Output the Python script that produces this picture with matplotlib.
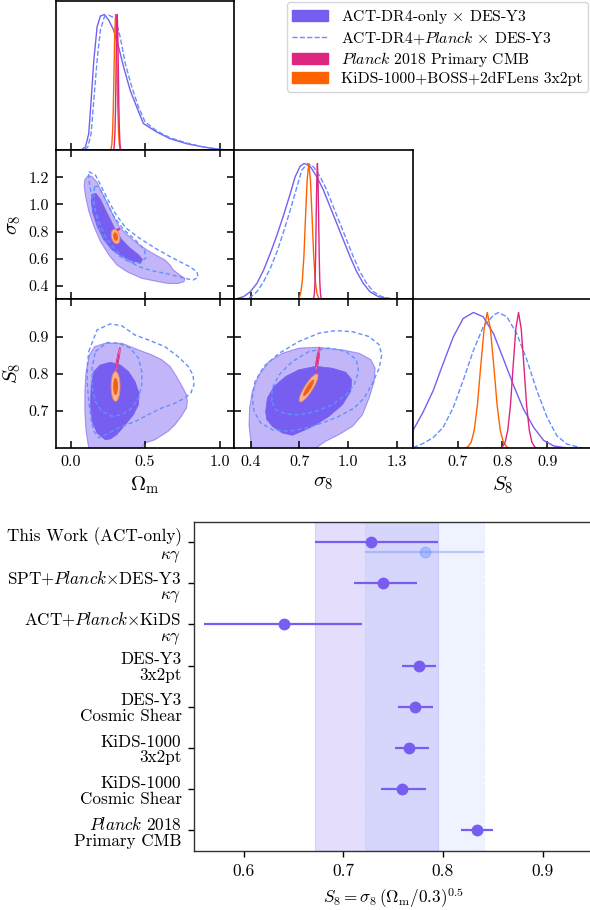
import numpy as np
import matplotlib
matplotlib.use("Agg")
import matplotlib.pyplot as plt
from matplotlib.patches import Polygon, Patch
from matplotlib.lines import Line2D
import warnings
warnings.filterwarnings("ignore")

plt.rcParams['font.family'] = ['cmr10', 'DejaVu Serif']
plt.rcParams['mathtext.fontset'] = 'cm'
plt.rcParams['axes.unicode_minus'] = False
plt.rcParams['axes.formatter.use_mathtext'] = True

C_ACT = '#785EF0'
C_ACTP = '#648FFF'
C_PL = '#DC267F'
C_KIDS = '#FE6100'

# ---------------- 1D posteriors (normalised to peak) ----------------
OM_ACT_X = [-0.1, 0.067, 0.100, 0.122, 0.138, 0.156, 0.178, 0.200, 0.227, 0.256, 0.289, 0.322, 0.356, 0.400, 0.444, 0.489, 0.578, 0.667, 0.778, 0.889, 1.0, 1.1]
OM_ACT_P = [0, 0, 0.025, 0.123, 0.369, 0.663, 0.909, 0.988, 1.0, 0.958, 0.885, 0.762, 0.614, 0.442, 0.319, 0.197, 0.135, 0.086, 0.049, 0.025, 0.007, 0]
OM_ACTP_X = [-0.1, 0.089, 0.116, 0.138, 0.156, 0.178, 0.200, 0.227, 0.256, 0.300, 0.333, 0.367, 0.411, 0.456, 0.500, 0.578, 0.667, 0.778, 0.889, 1.0, 1.1]
OM_ACTP_P = [0, 0, 0.025, 0.123, 0.369, 0.663, 0.885, 0.983, 0.995, 0.971, 0.835, 0.639, 0.467, 0.319, 0.209, 0.143, 0.093, 0.054, 0.025, 0.007, 0]
OM_KIDS_X = [0.267, 0.272, 0.277, 0.282, 0.287, 0.292, 0.297, 0.302, 0.307, 0.312, 0.317, 0.322, 0.327, 0.332, 0.337, 0.467]
OM_KIDS_P = [0, 0.011, 0.044, 0.135, 0.32, 0.61, 0.88, 1.0, 0.88, 0.61, 0.32, 0.135, 0.044, 0.011, 0, 0]
OM_PL_X = [0.287, 0.2905, 0.294, 0.298, 0.302, 0.3055, 0.3093, 0.313, 0.3167, 0.3205, 0.324, 0.328, 0.332, 0.3355, 0.339]
OM_PL_P = [0, 0.011, 0.044, 0.135, 0.32, 0.61, 0.88, 1.0, 0.88, 0.61, 0.32, 0.135, 0.044, 0.011, 0]

SIG_ACT_X = [0.3, 0.357, 0.398, 0.439, 0.480, 0.521, 0.562, 0.603, 0.644, 0.674, 0.705, 0.729, 0.766, 0.807, 0.848, 0.889, 0.930, 0.971, 1.012, 1.053, 1.093, 1.134, 1.185, 1.257, 1.4]
SIG_ACT_P = [0, 0.02, 0.056, 0.118, 0.216, 0.338, 0.473, 0.620, 0.779, 0.902, 0.980, 1.0, 0.98, 0.902, 0.804, 0.681, 0.559, 0.436, 0.314, 0.203, 0.118, 0.056, 0.02, 0.002, 0]
SIG_ACTP_X = [0.3, 0.357, 0.398, 0.439, 0.480, 0.521, 0.562, 0.603, 0.644, 0.685, 0.715, 0.750, 0.787, 0.828, 0.869, 0.909, 0.950, 0.991, 1.032, 1.073, 1.114, 1.155, 1.206, 1.277, 1.4]
SIG_ACTP_P = [0, 0, 0.015, 0.056, 0.130, 0.228, 0.350, 0.498, 0.657, 0.828, 0.951, 1.0, 0.975, 0.902, 0.804, 0.681, 0.559, 0.436, 0.314, 0.203, 0.118, 0.056, 0.02, 0.002, 0]
SIG_KIDS_X = [0.52, 0.688, 0.698, 0.708, 0.718, 0.728, 0.738, 0.748, 0.758, 0.768, 0.778, 0.788, 0.798, 0.808, 0.818, 0.828, 0.90]
SIG_KIDS_P = [0, 0, 0.011, 0.044, 0.135, 0.32, 0.61, 0.88, 1.0, 0.88, 0.61, 0.32, 0.135, 0.044, 0.011, 0, 0]
SIG_PL_X = [0.77, 0.785, 0.7885, 0.7925, 0.7965, 0.8, 0.8035, 0.8073, 0.811, 0.8147, 0.8185, 0.822, 0.8255, 0.8295, 0.8335, 0.837, 0.85]
SIG_PL_P = [0, 0, 0.011, 0.044, 0.135, 0.32, 0.61, 0.88, 1.0, 0.88, 0.61, 0.32, 0.135, 0.044, 0.011, 0, 0]

S8_ACT_X = [0.6, 0.622, 0.645, 0.667, 0.690, 0.712, 0.735, 0.757, 0.780, 0.802, 0.825, 0.847, 0.870, 0.892, 0.915, 0.945, 1.0]
S8_ACT_P = [0.133, 0.264, 0.425, 0.622, 0.820, 0.956, 1.0, 0.968, 0.844, 0.659, 0.462, 0.289, 0.153, 0.059, 0.017, 0.002, 0]
S8_ACTP_X = [0.6, 0.622, 0.645, 0.667, 0.690, 0.712, 0.735, 0.757, 0.780, 0.791, 0.810, 0.832, 0.855, 0.877, 0.900, 0.922, 0.945, 0.975, 1.0]
S8_ACTP_P = [0.005, 0.035, 0.079, 0.153, 0.301, 0.499, 0.721, 0.894, 0.980, 1.0, 0.968, 0.844, 0.647, 0.425, 0.227, 0.091, 0.030, 0.005, 0]
S8_KIDS_X = [0.6, 0.716, 0.7225, 0.730, 0.737, 0.744, 0.7515, 0.759, 0.766, 0.773, 0.7805, 0.788, 0.795, 0.802, 0.8095, 0.816, 0.80]
S8_KIDS_P = [0, 0, 0.011, 0.044, 0.135, 0.32, 0.61, 0.88, 1.0, 0.88, 0.61, 0.32, 0.135, 0.044, 0.011, 0, 0]
S8_PL_X = [0.757, 0.794, 0.800, 0.806, 0.812, 0.818, 0.824, 0.830, 0.836, 0.842, 0.848, 0.854, 0.860, 0.866, 0.872, 0.878, 0.90]
S8_PL_P = [0, 0, 0.011, 0.044, 0.135, 0.32, 0.61, 0.88, 1.0, 0.88, 0.61, 0.32, 0.135, 0.044, 0.011, 0, 0]

# ---------------- 2D contours (68% / 95%) ----------------
# (Omega_m, sigma_8)
OMSIG_ACT_95 = [(0.096, 1.183), (0.091, 1.138), (0.100, 1.063), (0.122, 0.952), (0.156, 0.840), (0.200, 0.728), (0.256, 0.629), (0.311, 0.554), (0.378, 0.504), (0.478, 0.455), (0.589, 0.430), (0.656, 0.417), (0.722, 0.417), (0.762, 0.430), (0.767, 0.455), (0.733, 0.480), (0.689, 0.517), (0.667, 0.554), (0.633, 0.591), (0.567, 0.629), (0.511, 0.666), (0.444, 0.716), (0.378, 0.778), (0.333, 0.827), (0.300, 0.889), (0.256, 0.989), (0.211, 1.088), (0.178, 1.163), (0.144, 1.207), (0.116, 1.212)]
OMSIG_ACT_68 = [(0.144, 1.076), (0.138, 1.026), (0.149, 0.939), (0.178, 0.840), (0.222, 0.740), (0.278, 0.666), (0.344, 0.616), (0.422, 0.579), (0.473, 0.571), (0.482, 0.596), (0.456, 0.629), (0.400, 0.678), (0.344, 0.740), (0.300, 0.815), (0.267, 0.889), (0.233, 0.964), (0.200, 1.039), (0.171, 1.081)]
OMSIG_ACTP_95 = [(0.122, 1.242), (0.167, 1.217), (0.204, 1.138), (0.249, 1.039), (0.304, 0.927), (0.371, 0.827), (0.460, 0.753), (0.567, 0.678), (0.678, 0.609), (0.789, 0.547), (0.849, 0.504), (0.856, 0.462), (0.822, 0.442), (0.767, 0.455), (0.656, 0.487), (0.544, 0.512), (0.456, 0.542), (0.378, 0.591), (0.300, 0.666), (0.233, 0.765), (0.189, 0.877), (0.156, 0.989), (0.133, 1.113), (0.122, 1.188)]
OMSIG_ACTP_68 = [(0.162, 1.133), (0.189, 1.133), (0.233, 1.039), (0.289, 0.914), (0.356, 0.815), (0.433, 0.740), (0.496, 0.666), (0.504, 0.604), (0.467, 0.566), (0.400, 0.571), (0.333, 0.616), (0.267, 0.678), (0.211, 0.765), (0.178, 0.877), (0.160, 0.989), (0.156, 1.088)]
# (Omega_m, S_8)
OMS8_ACT_95 = [(0.122, 0.601), (0.104, 0.646), (0.096, 0.699), (0.096, 0.753), (0.104, 0.806), (0.127, 0.851), (0.162, 0.873), (0.233, 0.882), (0.344, 0.882), (0.456, 0.864), (0.544, 0.851), (0.611, 0.838), (0.667, 0.820), (0.711, 0.793), (0.749, 0.766), (0.778, 0.744), (0.784, 0.726), (0.778, 0.708), (0.744, 0.686), (0.700, 0.663), (0.656, 0.646), (0.567, 0.623), (0.500, 0.614), (0.478, 0.601), (0.456, 0.574), (0.144, 0.574)]
OMS8_ACT_68 = [(0.233, 0.623), (0.178, 0.641), (0.144, 0.672), (0.133, 0.717), (0.138, 0.771), (0.156, 0.806), (0.200, 0.824), (0.267, 0.831), (0.333, 0.824), (0.389, 0.806), (0.433, 0.779), (0.460, 0.748), (0.456, 0.717), (0.422, 0.690), (0.367, 0.663), (0.311, 0.637), (0.267, 0.625)]
OMS8_ACTP_95 = [(0.122, 0.860), (0.178, 0.918), (0.267, 0.934), (0.344, 0.929), (0.433, 0.904), (0.522, 0.891), (0.633, 0.873), (0.722, 0.846), (0.789, 0.820), (0.822, 0.797), (0.829, 0.771), (0.807, 0.748), (0.767, 0.735), (0.700, 0.721), (0.611, 0.708), (0.500, 0.686), (0.433, 0.672), (0.344, 0.659), (0.256, 0.641), (0.189, 0.628), (0.156, 0.646), (0.140, 0.672), (0.122, 0.726), (0.111, 0.779), (0.113, 0.824)]
OMS8_ACTP_68 = [(0.167, 0.860), (0.244, 0.884), (0.322, 0.882), (0.400, 0.869), (0.456, 0.842), (0.478, 0.806), (0.478, 0.771), (0.456, 0.735), (0.411, 0.708), (0.344, 0.690), (0.278, 0.686), (0.211, 0.699), (0.167, 0.726), (0.144, 0.762), (0.144, 0.815)]
# (sigma_8, S_8)
SIGS8_ACT_95 = [(0.406, 0.601), (0.390, 0.663), (0.394, 0.708), (0.410, 0.753), (0.451, 0.797), (0.513, 0.833), (0.595, 0.855), (0.698, 0.869), (0.821, 0.871), (0.965, 0.864), (1.068, 0.855), (1.140, 0.838), (1.166, 0.815), (1.160, 0.779), (1.129, 0.735), (1.088, 0.690), (1.027, 0.659), (0.944, 0.637), (0.862, 0.619), (0.801, 0.601), (0.780, 0.574), (0.410, 0.574)]
SIGS8_ACT_68 = [(0.492, 0.699), (0.503, 0.735), (0.544, 0.766), (0.616, 0.793), (0.698, 0.811), (0.801, 0.820), (0.903, 0.815), (0.986, 0.804), (1.023, 0.784), (1.016, 0.753), (0.965, 0.717), (0.883, 0.686), (0.801, 0.663), (0.718, 0.646), (0.657, 0.635), (0.595, 0.641), (0.534, 0.659), (0.499, 0.677)]
SIGS8_ACTP_95 = [(0.410, 0.735), (0.427, 0.779), (0.482, 0.820), (0.575, 0.855), (0.698, 0.887), (0.821, 0.909), (0.924, 0.916), (1.027, 0.913), (1.129, 0.900), (1.191, 0.878), (1.207, 0.851), (1.191, 0.815), (1.150, 0.775), (1.099, 0.735), (1.037, 0.708), (0.944, 0.686), (0.842, 0.668), (0.739, 0.654), (0.636, 0.646), (0.534, 0.650), (0.462, 0.668), (0.421, 0.699)]
SIGS8_ACTP_68 = [(0.529, 0.726), (0.534, 0.762), (0.575, 0.797), (0.657, 0.833), (0.760, 0.860), (0.883, 0.869), (0.986, 0.860), (1.051, 0.838), (1.064, 0.806), (1.037, 0.771), (0.986, 0.744), (0.903, 0.717), (0.801, 0.699), (0.698, 0.690), (0.616, 0.692), (0.554, 0.704)]

# Gaussian-like constraints: centre and two semi-axis vectors (68% and 95%)
KIDS_CENTRE = {'omsig': (0.302, 0.763), 'oms8': (0.302, 0.766), 'sigs8': (0.757, 0.762)}
KIDS_AXES_95 = {'omsig': ((-0.008, 0.053), (0.028, 0.0)), 'oms8': ((0.0, 0.040), (0.030, 0.0)), 'sigs8': ((0.054, 0.037), (0.0205, -0.006))}
KIDS_AXES_68 = {'omsig': ((-0.004, 0.032), (0.016, 0.0)), 'oms8': ((0.0, 0.023), (0.0165, 0.0)), 'sigs8': ((0.032, 0.022), (0.011, -0.0035))}
PL_CENTRE = {'omsig': (0.315, 0.813), 'oms8': (0.316, 0.836), 'sigs8': (0.812, 0.838)}
PL_AXES_95 = {'omsig': ((0.016, 0.008), (-0.002, 0.007)), 'oms8': ((0.016, 0.035), (0.0076, -0.0006)), 'sigs8': ((0.012, 0.033), (0.008, -0.0006))}
PL_AXES_68 = {'omsig': ((0.010, 0.005), (-0.001, 0.004)), 'oms8': ((0.010, 0.021), (0.004, -0.0003)), 'sigs8': ((0.0075, 0.020), (0.005, -0.0004))}

# axis ranges and ticks
OM_LIM = (-0.1, 1.1)
SIG_LIM = (0.3, 1.4)
S8_LIM = (0.6, 1.0)
OM_TICKS = [0.0, 0.5, 1.0]
SIG_XTICKS = [0.4, 0.7, 1.0, 1.3]
SIG_YTICKS = [0.4, 0.6, 0.8, 1.0, 1.2]
S8_TICKS = [0.7, 0.8, 0.9]

LEGEND_LABELS = [r'ACT-DR4-only $\times$ DES-Y3',
                 r'ACT-DR4+$\mathit{Planck}$ $\times$ DES-Y3',
                 r'$\mathit{Planck}$ 2018 Primary CMB',
                 r'KiDS-1000+BOSS+2dFLens 3x2pt']

# ---------------- whisker data ----------------
WH_LABELS = ['This Work (ACT-only)\n$\\kappa\\gamma$',
             'SPT+$\\mathit{Planck}$$\\times$DES-Y3\n$\\kappa\\gamma$',
             'ACT+$\\mathit{Planck}$$\\times$KiDS\n$\\kappa\\gamma$',
             'DES-Y3\n3x2pt',
             'DES-Y3\nCosmic Shear',
             'KiDS-1000\n3x2pt',
             'KiDS-1000\nCosmic Shear',
             '$\\mathit{Planck}$ 2018\nPrimary CMB']
WH_S8 = [0.728, 0.740, 0.640, 0.776, 0.772, 0.766, 0.759, 0.834]
WH_LO = [0.057, 0.029, 0.080, 0.017, 0.017, 0.014, 0.021, 0.016]
WH_HI = [0.067, 0.034, 0.079, 0.017, 0.018, 0.020, 0.024, 0.016]
ACTP_S8 = 0.782
ACTP_LO = 0.060
ACTP_HI = 0.059
ACT_BAND = (0.671, 0.795)
ACTP_BAND = (0.722, 0.841)
WH_XLIM = (0.55, 0.95)
WH_TICKS = [0.6, 0.7, 0.8, 0.9]

# ---------------- figure ----------------
W, H = 590, 910
fig = plt.figure(figsize=(W / 100, H / 100), dpi=100)


def add_ax(x0, y0, w, h):
    return fig.add_axes([x0 / W, 1 - (y0 + h) / H, w / W, h / H])


PW, PH = 178.7, 149.0
X0 = [55.7, 234.4, 413.1]
Y0 = [1.3, 150.3, 299.3]

ax = {}
for r in range(3):
    for c in range(r + 1):
        a = add_ax(X0[c], Y0[r], PW, PH)
        for s in a.spines.values():
            s.set_linewidth(1.2)
        a.tick_params(direction='in', length=5, width=1.1, labelsize=11.5, pad=5)
        ax[(r, c)] = a


def fmt(v):
    return f'{v:.1f}'


def hist(a, xs, ps, color, ls='-'):
    a.plot(xs, ps, color=color, lw=1.0, ls=ls, clip_on=True)


# diagonals
a = ax[(0, 0)]
hist(a, OM_ACT_X, OM_ACT_P, C_ACT)
hist(a, OM_ACTP_X, OM_ACTP_P, C_ACTP, '--')
hist(a, OM_KIDS_X, OM_KIDS_P, C_KIDS)
hist(a, OM_PL_X, OM_PL_P, C_PL)
a.set_xlim(*OM_LIM); a.set_ylim(0, 1.097)
a.set_xticks(OM_TICKS); a.set_xticklabels([])
a.set_yticks([])

a = ax[(1, 1)]
hist(a, SIG_ACT_X, SIG_ACT_P, C_ACT)
hist(a, SIG_ACTP_X, SIG_ACTP_P, C_ACTP, '--')
hist(a, SIG_KIDS_X, SIG_KIDS_P, C_KIDS)
hist(a, SIG_PL_X, SIG_PL_P, C_PL)
a.set_xlim(*SIG_LIM); a.set_ylim(0, 1.097)
a.set_xticks(SIG_XTICKS); a.set_xticklabels([])
a.set_yticks([])

a = ax[(2, 2)]
hist(a, S8_ACT_X, S8_ACT_P, C_ACT)
hist(a, S8_ACTP_X, S8_ACTP_P, C_ACTP, '--')
hist(a, S8_KIDS_X, S8_KIDS_P, C_KIDS)
hist(a, S8_PL_X, S8_PL_P, C_PL)
a.set_xlim(*S8_LIM); a.set_ylim(0, 1.097)
a.set_xticks(S8_TICKS); a.set_xticklabels([fmt(v) for v in S8_TICKS])
a.set_yticks([])
a.set_xlabel(r'$S_8$', fontsize=14, labelpad=4)


def gauss_ellipse(centre, axes):
    t = np.linspace(0, 2 * np.pi, 80)
    (ax1, ay1), (ax2, ay2) = axes
    xs = centre[0] + ax1 * np.cos(t) + ax2 * np.sin(t)
    ys = centre[1] + ay1 * np.cos(t) + ay2 * np.sin(t)
    return np.column_stack([xs, ys])


def panel2d(a, act95, act68, actp95, actp68, key):
    a.add_patch(Polygon(act95, closed=True, facecolor=C_ACT, alpha=0.45, edgecolor='none', zorder=1))
    a.add_patch(Polygon(act95, closed=True, fill=False, edgecolor=C_ACT, alpha=0.6, lw=0.8, zorder=1.1))
    a.add_patch(Polygon(act68, closed=True, facecolor=C_ACT, edgecolor=C_ACT, lw=0.5, zorder=1.2))
    a.add_patch(Polygon(actp95, closed=True, fill=False, edgecolor=C_ACTP, ls=(0, (3, 2)), lw=1.0, zorder=2))
    a.add_patch(Polygon(actp68, closed=True, fill=False, edgecolor=C_ACTP, ls=(0, (3, 2)), lw=1.0, zorder=2))
    a.add_patch(Polygon(gauss_ellipse(PL_CENTRE[key], PL_AXES_95[key]), closed=True,
                        facecolor='#EE8FBD', edgecolor=C_PL, lw=0.5, zorder=3))
    a.add_patch(Polygon(gauss_ellipse(PL_CENTRE[key], PL_AXES_68[key]), closed=True,
                        facecolor=C_PL, edgecolor='none', zorder=3.1))
    a.add_patch(Polygon(gauss_ellipse(KIDS_CENTRE[key], KIDS_AXES_95[key]), closed=True,
                        facecolor='#F8B393', edgecolor='#F4874F', lw=0.6, zorder=4))
    a.add_patch(Polygon(gauss_ellipse(KIDS_CENTRE[key], KIDS_AXES_68[key]), closed=True,
                        facecolor='#EC631C', edgecolor='none', zorder=4.1))


a = ax[(1, 0)]
panel2d(a, OMSIG_ACT_95, OMSIG_ACT_68, OMSIG_ACTP_95, OMSIG_ACTP_68, 'omsig')
a.set_xlim(*OM_LIM); a.set_ylim(*SIG_LIM)
a.set_xticks(OM_TICKS); a.set_xticklabels([])
a.set_yticks(SIG_YTICKS); a.set_yticklabels([fmt(v) for v in SIG_YTICKS])
a.tick_params(top=True, right=True)
a.set_ylabel(r'$\sigma_8$', fontsize=15, labelpad=4)

a = ax[(2, 0)]
panel2d(a, OMS8_ACT_95, OMS8_ACT_68, OMS8_ACTP_95, OMS8_ACTP_68, 'oms8')
a.set_xlim(*OM_LIM); a.set_ylim(*S8_LIM)
a.set_xticks(OM_TICKS); a.set_xticklabels([fmt(v) for v in OM_TICKS])
a.set_yticks(S8_TICKS); a.set_yticklabels([fmt(v) for v in S8_TICKS])
a.tick_params(top=True, right=True)
a.set_xlabel(r'$\Omega_{\rm m}$', fontsize=15, labelpad=4)
a.set_ylabel(r'$S_8$', fontsize=15, labelpad=4)

a = ax[(2, 1)]
panel2d(a, SIGS8_ACT_95, SIGS8_ACT_68, SIGS8_ACTP_95, SIGS8_ACTP_68, 'sigs8')
a.set_xlim(*SIG_LIM); a.set_ylim(*S8_LIM)
a.set_xticks(SIG_XTICKS); a.set_xticklabels([fmt(v) for v in SIG_XTICKS])
a.set_yticks(S8_TICKS); a.set_yticklabels([])
a.tick_params(top=True, right=True)
a.set_xlabel(r'$\sigma_8$', fontsize=15, labelpad=4)
ax[(2, 2)].xaxis.label.set_size(15)

# legend
handles = [Patch(facecolor=C_ACT, edgecolor=C_ACT),
           Line2D([], [], color=C_ACTP, ls='--', lw=1.0),
           Patch(facecolor=C_PL, edgecolor=C_PL),
           Patch(facecolor=C_KIDS, edgecolor=C_KIDS)]
fig.legend(handles, LEGEND_LABELS, loc='upper right', bbox_to_anchor=(1.0, 1.0),
           fontsize=11.3, handlelength=2.3, handletextpad=0.8, labelspacing=0.2,
           borderpad=0.35, borderaxespad=0.15, frameon=True, fancybox=True)

# ---------------- whisker plot ----------------
axw = add_ax(194, 521.5, 398.4, 329.5)
axw.axvspan(*ACT_BAND, facecolor=C_ACT, alpha=0.2, edgecolor=C_ACT, lw=0.8, zorder=0)
axw.axvspan(*ACTP_BAND, facecolor=C_ACTP, alpha=0.1, edgecolor=C_ACTP, lw=0.8, ls='--', zorder=0)
rows = np.arange(len(WH_S8))
for i in rows:
    axw.errorbar(WH_S8[i], i, xerr=[[WH_LO[i]], [WH_HI[i]]], fmt='o', color=C_ACT,
                 ms=7.5, lw=1.6, capsize=0, zorder=3)
axw.errorbar(ACTP_S8, 0.25, xerr=[[ACTP_LO], [ACTP_HI]], fmt='o', color=C_ACTP, alpha=0.4,
             ms=7.5, lw=1.6, capsize=0, zorder=2)
axw.set_xlim(*WH_XLIM)
axw.set_ylim(len(WH_S8) - 0.5, -0.5)
axw.set_yticks(rows)
axw.set_yticklabels(WH_LABELS, fontsize=12.3, ha='right', linespacing=1.05)
axw.set_xticks(WH_TICKS)
axw.set_xticklabels([fmt(v) for v in WH_TICKS], fontsize=12.5)
axw.tick_params(direction='out', length=4, width=1.0, pad=5)
for s in axw.spines.values():
    s.set_linewidth(1.0)
    s.set_color('#333333')
axw.set_xlabel(r'$S_8 = \sigma_8\,\left(\Omega_{\rm m}/0.3\right)^{0.5}$', fontsize=12.3, labelpad=5)

fig.savefig('out.png', dpi=100, facecolor='white')
